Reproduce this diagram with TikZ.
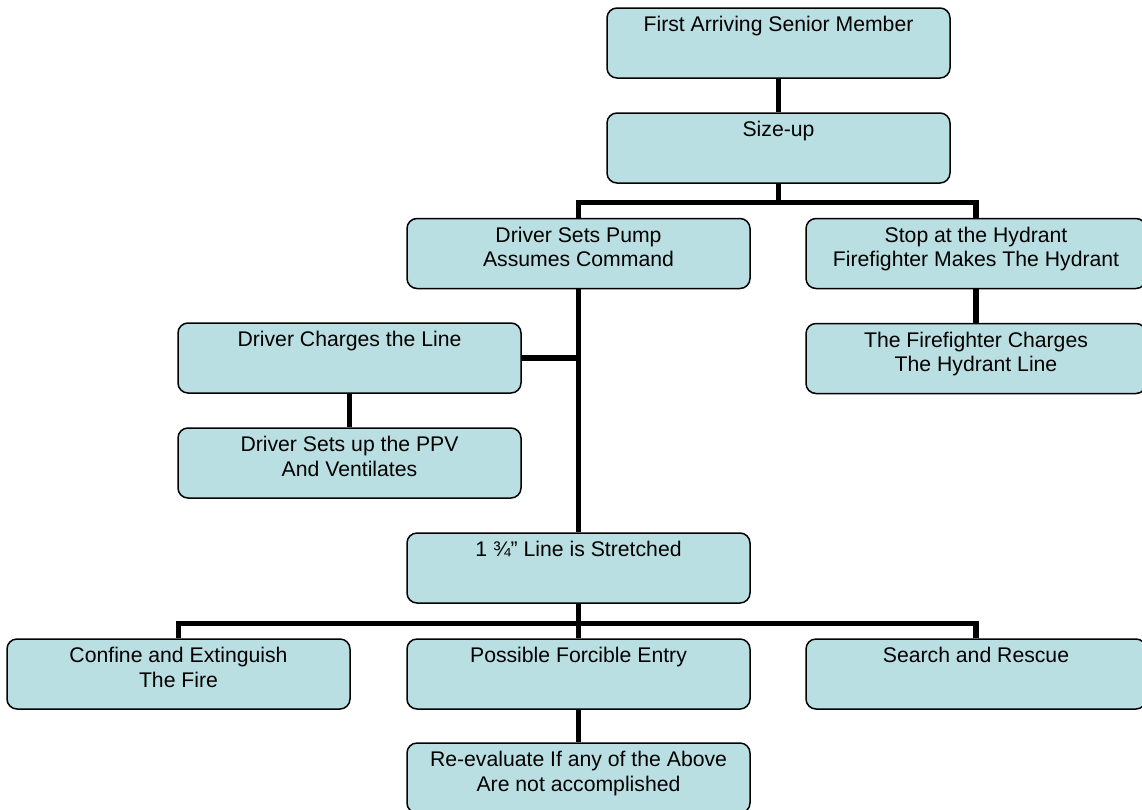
\documentclass[tikz,border=0pt]{standalone}
\usepackage{fontspec}
\setmainfont{Liberation Sans}
\usetikzlibrary{backgrounds}
\definecolor{boxfill}{RGB}{186,223,226}
\newcommand{\boxtext}[1]{\parbox[c][70pt][t]{335pt}{\centering\fontsize{21.2}{24.4}\selectfont\vspace*{8.5pt}#1\par}}
\tikzset{
  box/.style={draw=black, line width=1.5pt, fill=boxfill, rounded corners=10pt,
    minimum width=343pt, minimum height=70pt, inner sep=0pt},
  rbox/.style={box, minimum width=340pt},
  link/.style={line width=5.5pt, line join=miter, draw=black}
}
\begin{document}
\begin{tikzpicture}[x=1pt,y=-1pt]
\useasboundingbox (0,0) rectangle (1142,809);
\node[box] (n1) at (778.5,43) {\boxtext{First Arriving Senior Member}};
\node[box] (n2) at (778.5,148) {\boxtext{Size-up}};
\node[box] (n3) at (578.5,253.5) {\boxtext{Driver Sets Pump\\Assumes Command}};
\node[rbox] (n4) at (976,253.5) {\boxtext{Stop at the Hydrant\\Firefighter Makes The Hydrant}};
\node[rbox] (n5) at (976,358.5) {\boxtext{The Firefighter Charges\\The Hydrant Line}};
\node[box] (n6) at (349.5,358) {\boxtext{Driver Charges the Line}};
\node[box] (n7) at (349.5,463) {\boxtext{Driver Sets up the PPV\\And Ventilates}};
\node[box] (n8) at (578.5,568) {\boxtext{1 ¾” Line is Stretched}};
\node[box] (n9) at (178.5,674) {\boxtext{Confine and Extinguish\\The Fire}};
\node[box] (n10) at (578.5,674) {\boxtext{Possible Forcible Entry}};
\node[rbox] (n11) at (976,674) {\boxtext{Search and Rescue}};
\node[box] (n12) at (578.5,778) {\boxtext{Re-evaluate If any of the Above\\Are not accomplished}};
\coordinate (b1) at (778.5,202.5);
\coordinate (b2) at (578.5,623.5);
\begin{scope}[on background layer]
\draw[link] (n1.south) -- (n2.north);
\draw[link] (n2.south) -- (b1);
\draw[link] (n3.north) |- (b1) -| (n4.north);
\draw[link] (n4.south) -- (n5.north);
\draw[link] (n3.south) -- (n8.north);
\draw[link] (n6.east) -- (n6.east -| n3.south);
\draw[link] (n6.south) -- (n7.north);
\draw[link] (n8.south) -- (n10.north);
\draw[link] (n9.north) |- (b2) -| (n11.north);
\draw[link] (n10.south) -- (n12.north);
\end{scope}
\end{tikzpicture}
\end{document}
